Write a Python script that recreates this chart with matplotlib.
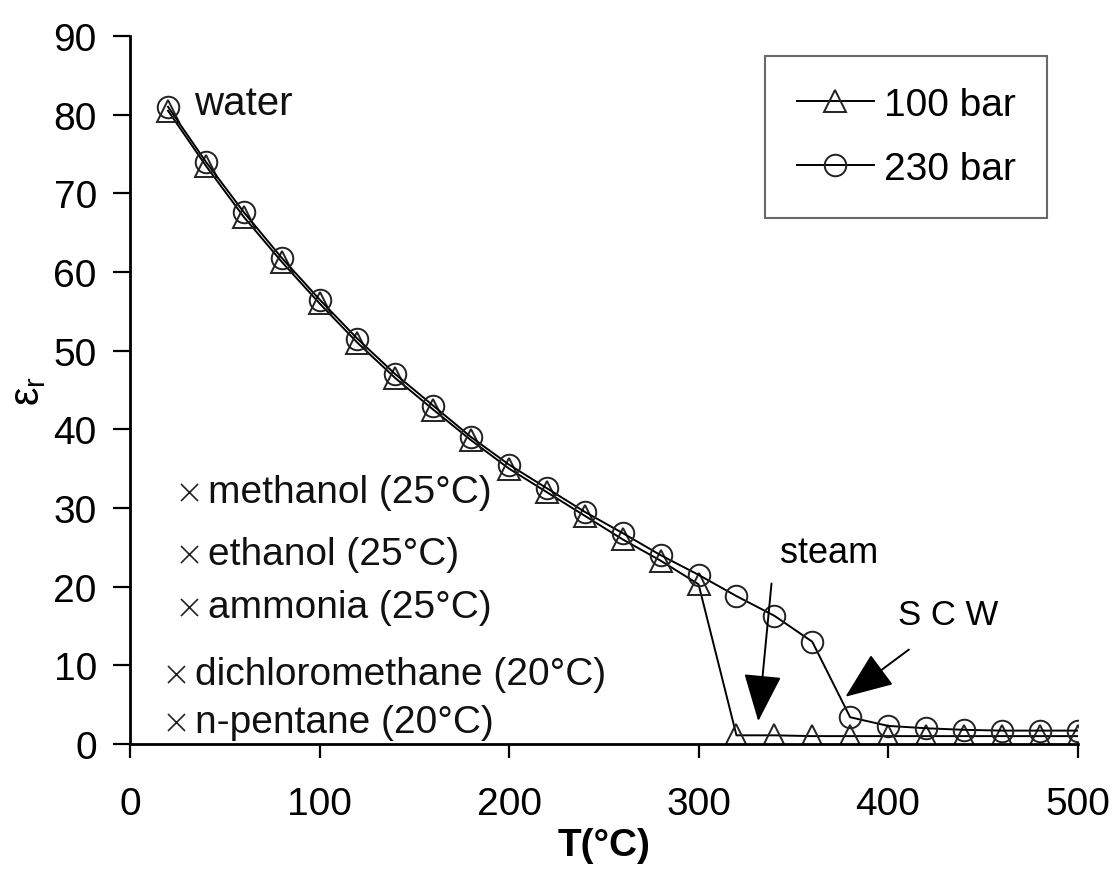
import numpy as np
import matplotlib
matplotlib.use("Agg")
import matplotlib.pyplot as plt

plt.rcParams["font.family"] = ["Liberation Sans", "DejaVu Sans"]

# Dielectric constant of water vs temperature
temps = [20, 40, 60, 80, 100, 120, 140, 160, 180, 200, 220, 240, 260,
         280, 300, 320, 340, 360, 380, 400, 420, 440, 460, 480, 500]
eps_100bar = [80.5, 73.5, 67.0, 61.3, 56.0, 51.0, 46.5, 42.5, 38.6, 35.0,
              32.0, 29.0, 26.0, 23.3, 20.3, 1.1, 1.1, 1.0, 1.0, 1.0,
              1.0, 1.0, 1.0, 1.0, 1.0]
eps_230bar = [81.0, 74.0, 67.6, 61.8, 56.5, 51.5, 47.0, 43.0, 39.0, 35.5,
              32.5, 29.5, 26.8, 24.0, 21.5, 18.8, 16.3, 13.0, 3.4, 2.3,
              2.0, 1.8, 1.7, 1.7, 1.7]

# Other solvents (marker position)
solvent_labels = ["methanol (25°C)", "ethanol (25°C)", "ammonia (25°C)",
                  "dichloromethane (20°C)", "n-pentane (20°C)"]
solvent_x = [31, 31, 31, 24, 24]
solvent_eps = [32.0, 24.1, 17.4, 8.9, 2.8]

fig = plt.figure(figsize=(11.12, 8.7), dpi=100)
ax = fig.add_axes([0.117, 0.1437, 0.852, 0.8138])

ax.plot(temps, eps_100bar, color="black", lw=1.4, marker="^", ms=16.5,
        mfc="none", mec="#222222", mew=1.4, label="100 bar")
ax.plot(temps, eps_230bar, color="black", lw=1.4, marker="o", ms=15.5,
        mfc="none", mec="#222222", mew=1.4, label="230 bar")

ax.scatter(solvent_x, solvent_eps, marker="x", s=150, color="#222222", lw=1.2)
for xs, ys, lab in zip(solvent_x, solvent_eps, solvent_labels):
    ax.text(xs + 10, ys, lab, fontsize=28, va="center", ha="left", color="#111111")

ax.text(34, 81.5, "water", fontsize=29, va="center", ha="left", color="#111111")

# arrows pointing at steam and supercritical water
arrow_style = dict(arrowstyle="-|>,head_length=1.25,head_width=0.5", color="black",
                   lw=1.4, shrinkA=0, shrinkB=0, mutation_scale=24)
ax.annotate("", xy=(331.5, 2.9), xytext=(338.5, 20.4), arrowprops=arrow_style)
ax.annotate("", xy=(377.5, 6.0), xytext=(411, 12.0), arrowprops=arrow_style)
ax.text(343, 24.4, "steam", fontsize=26, ha="left", va="center")
ax.text(405, 16.5, "S C W", fontsize=25, ha="left", va="center")

ax.set_xlim(0, 500)
ax.set_ylim(0, 90)
ax.set_xticks(np.arange(0, 501, 100))
ax.set_yticks(np.arange(0, 91, 10))
ax.tick_params(axis="y", direction="out", length=12, width=1.6, pad=12, labelsize=28)
ax.tick_params(axis="x", direction="out", length=10, width=1.6, pad=20, labelsize=28)
for side in ["top", "right"]:
    ax.spines[side].set_visible(False)
for side in ["left", "bottom"]:
    ax.spines[side].set_linewidth(2)

ax.set_xlabel("T(°C)", fontsize=28, fontweight="bold", labelpad=4)
ax.set_ylabel(r"ε$_\mathregular{r}$", fontsize=30, labelpad=4)

leg = ax.legend(loc="upper right", bbox_to_anchor=(0.968, 0.972), fontsize=28,
                frameon=True, fancybox=False, edgecolor="#444444",
                handlelength=2.0, handletextpad=0.25, borderpad=0.8,
                labelspacing=0.72, borderaxespad=0)
leg.get_frame().set_linewidth(1.5)

fig.savefig("out.png", dpi=100)
